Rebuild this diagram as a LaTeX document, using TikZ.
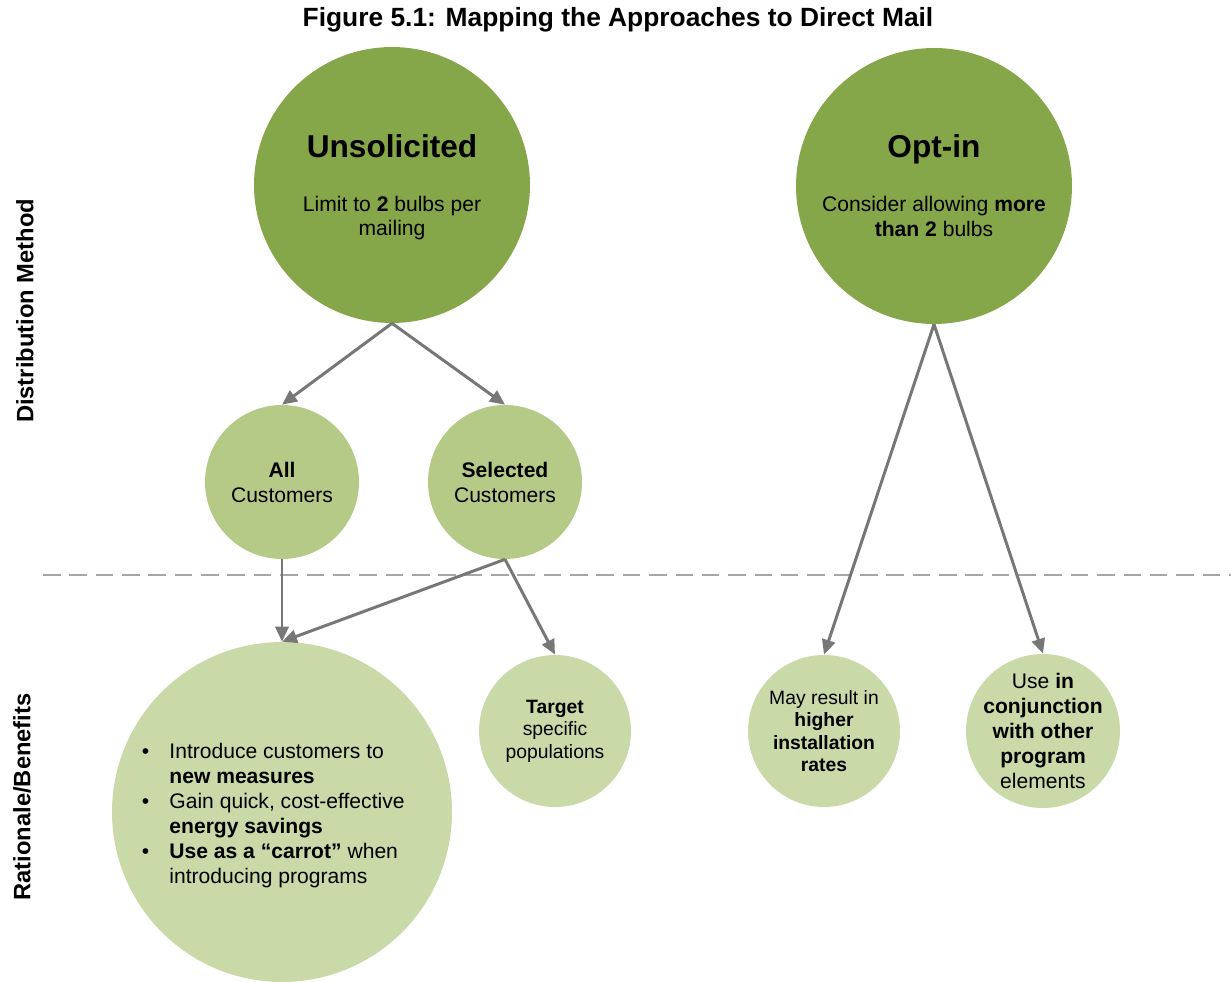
\documentclass[tikz,border=0pt]{standalone}
\usepackage{xcolor}
\usepackage{fontspec}
\setmainfont{Liberation Sans}
\usepackage{tikz}
\usetikzlibrary{arrows.meta}

\definecolor{olivegreen}{HTML}{86A64A}
\definecolor{midgreen}{HTML}{B5CA87}
\definecolor{palegreen}{HTML}{C9DAA8}
\definecolor{arrowgray}{HTML}{777777}
\definecolor{dashgray}{HTML}{A6A6A6}

\begin{document}
\begin{tikzpicture}[x=0.02cm,y=-0.02cm,
		method/.style={circle, fill=olivegreen, inner sep=0pt, minimum size=5.52cm, align=center, font=\fontsize{12}{14.2}\selectfont},
		group/.style={circle, fill=midgreen, inner sep=0pt, minimum size=3.08cm, align=center, font=\fontsize{12}{14.2}\selectfont},
		benefit/.style={circle, fill=palegreen, inner sep=-20pt, minimum size=3.04cm, align=center, font=\fontsize{11}{12.8}\selectfont},
		sidelabel/.style={rotate=90, font=\bfseries\fontsize{13.5}{16}\selectfont},
		link/.style={-{Triangle[length=8.5pt,width=7.5pt]}, arrowgray, line width=1.7pt}]

			\useasboundingbox (0,0) rectangle (1231,982);

			\node[font=\bfseries\fontsize{15}{18}\selectfont] (title) at (618,20) {Figure 5.1: Mapping the Approaches to Direct Mail};

			\node[sidelabel] (distlabel) at (25,311) {Distribution Method};
			\node[sidelabel] (ratlabel) at (22,797) {Rationale/Benefits};

			\coordinate (dashleft) at (43,575);
			\coordinate (dashright) at (1231,575);
			\draw [dashgray, line width=0.9pt, dash pattern=on 10pt off 5pt] (dashleft) -- (dashright);

			\node[method] (unsol) at (392,185) {\rule{0pt}{16pt}{\fontsize{18}{22}\selectfont\textbf{Unsolicited}}\\[16.1pt]Limit to \textbf{2} bulbs per\\mailing};
			\node[method] (optin) at (934,186) {\rule{0pt}{15pt}{\fontsize{18}{22}\selectfont\textbf{Opt-in}}\\[16.1pt]Consider allowing \textbf{more}\\\textbf{than 2} bulbs\vphantom{g}};

			\node[group] (all) at (282,482) {\textbf{All}\\Customers};
			\node[group] (selected) at (505,482) {\textbf{Selected}\\Customers};

			\node[circle, fill=palegreen, inner sep=0pt, minimum size=6.8cm, font=\fontsize{12}{14.2}\selectfont] (intro) at (282,812) {%
				\raisebox{0pt}[\dimexpr\height+4.6pt\relax][\depth]{\begin{tabular}{@{}l@{\hspace{11.5pt}}l@{\hspace{10pt}}}
					\textbullet & Introduce customers to\\
					& \textbf{new measures}\\
					\textbullet & Gain quick, cost-effective\\
					& \textbf{energy savings}\\
					\textbullet & \textbf{Use as a “carrot”} when\\
					& introducing programs
				\end{tabular}}};
			\node[benefit] (target) at (555,731) {\textbf{Target}\\specific\\populations};
			\node[benefit] (install) at (824,731) {May result in\\\textbf{higher}\\\textbf{installation}\\\textbf{rates}};
			\node[benefit, minimum size=3.08cm, font=\fontsize{12}{14.2}\selectfont] (conjunct) at (1043,731) {Use \textbf{in}\\\textbf{conjunction}\\\textbf{with other}\\\textbf{program}\\elements};

			\draw [link] (unsol.south) -- (all.north);
			\draw [link] (unsol.south) -- (selected.north);
			\draw [link] (all.south) -- (intro.north);
			\draw [link] (selected.south) -- (intro.north);
			\draw [link] (selected.south) -- (target.north);
			\draw [link] (optin.south) -- (install.north);
			\draw [link] (optin.south) -- (conjunct.north);
		\end{tikzpicture}
\end{document}
